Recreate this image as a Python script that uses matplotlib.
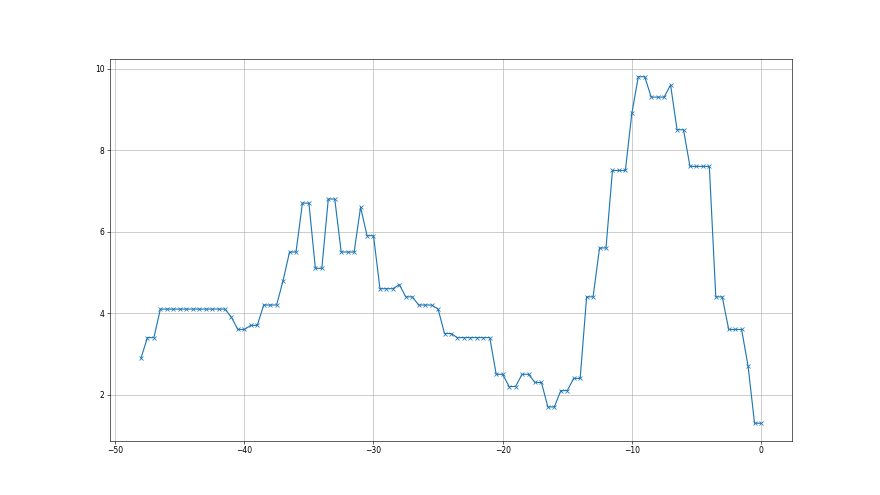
import numpy as np
import matplotlib
matplotlib.use("Agg")
import matplotlib.pyplot as plt

x_values = list(np.arange(-48, 0.01, 0.5))
y_values = [
    2.9, 3.4, 3.4,
    4.1, 4.1, 4.1, 4.1, 4.1, 4.1, 4.1, 4.1, 4.1, 4.1, 4.1,
    3.9, 3.6, 3.6, 3.7, 3.7, 4.2, 4.2, 4.2, 4.8, 5.5, 5.5,
    6.7, 6.7, 5.1, 5.1, 6.8, 6.8, 5.5, 5.5, 5.5, 6.6, 5.9, 5.9,
    4.6, 4.6, 4.6, 4.7, 4.4, 4.4, 4.2, 4.2, 4.2, 4.1, 3.5, 3.5,
    3.4, 3.4, 3.4, 3.4, 3.4, 3.4,
    2.5, 2.5, 2.2, 2.2, 2.5, 2.5, 2.3, 2.3, 1.7, 1.7, 2.1, 2.1, 2.4, 2.4,
    4.4, 4.4, 5.6, 5.6, 7.5, 7.5, 7.5, 8.9, 9.8, 9.8, 9.3, 9.3, 9.3, 9.6,
    8.5, 8.5, 7.6, 7.6, 7.6, 7.6, 4.4, 4.4, 3.6, 3.6, 3.6, 2.7, 1.3, 1.3,
]

fig, ax = plt.subplots(figsize=(16, 9), dpi=55)
ax.plot(x_values, y_values, marker="x", color="#1f77b4")
ax.grid(True)
fig.savefig("out.png", dpi=55)
